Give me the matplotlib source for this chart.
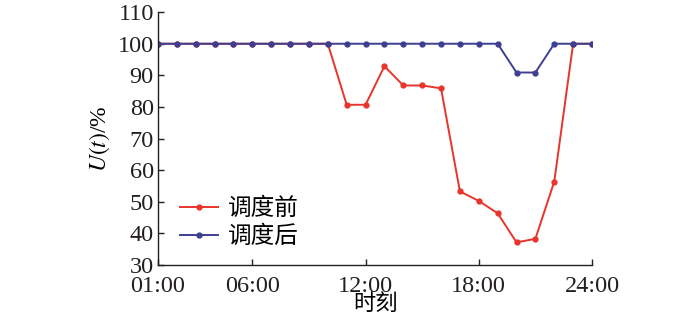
import numpy as np
import matplotlib
matplotlib.use('Agg')
import matplotlib.pyplot as plt

plt.rcParams['font.family'] = ['Liberation Serif', 'Noto Sans CJK SC']
plt.rcParams['mathtext.fontset'] = 'stix'

hours = list(range(1, 25))
before = [100, 100, 100, 100, 100, 100, 100, 100, 100, 100,
          80.7, 80.7, 92.9, 86.8, 86.8, 85.9, 53.3, 50.3, 46.4, 37.2,
          38.3, 56.4, 100, 100]
after = [100, 100, 100, 100, 100, 100, 100, 100, 100, 100,
         100, 100, 100, 100, 100, 100, 100, 100, 100, 90.9,
         90.9, 100, 100, 100]
xticks = [1, 6, 12, 18, 24]
xticklabels = ['01:00', '06:00', '12:00', '18:00', '24:00']

fig = plt.figure(figsize=(7, 3.19), dpi=100)
ax = fig.add_axes([0.2257, 0.169, 0.62, 0.793])

ax.plot(hours, before, color='#e8342b', lw=1.4, marker='o', ms=3.5, label='调度前')
ax.plot(hours, after, color='#3c3f92', lw=1.4, marker='o', ms=3.5, label='调度后')

ax.set_xlim(1, 24)
ax.set_ylim(30, 110)
ax.set_xticks(xticks)
ax.set_xticklabels(xticklabels)
ax.set_yticks(np.arange(30, 111, 10))
ax.tick_params(direction='in', length=4, labelsize=17.5, colors='#231f20', width=1)
ax.tick_params(axis='x', pad=7.5)
ax.tick_params(axis='y', pad=3)
for s in ['top', 'right']:
    ax.spines[s].set_visible(False)
for s in ['left', 'bottom']:
    ax.spines[s].set_color('#231f20')
    ax.spines[s].set_linewidth(1)

ax.set_ylabel(r'$U(t)$/%', fontsize=17, labelpad=4)
ax.set_xlabel('时刻', fontsize=16, labelpad=-1.5)

ax.legend(loc='lower left', frameon=False, fontsize=17, handlelength=1.6,
          handletextpad=0.4, borderaxespad=0.0, labelspacing=0.25,
          bbox_to_anchor=(0.03, 0.03))

fig.savefig('out.png', dpi=100)
